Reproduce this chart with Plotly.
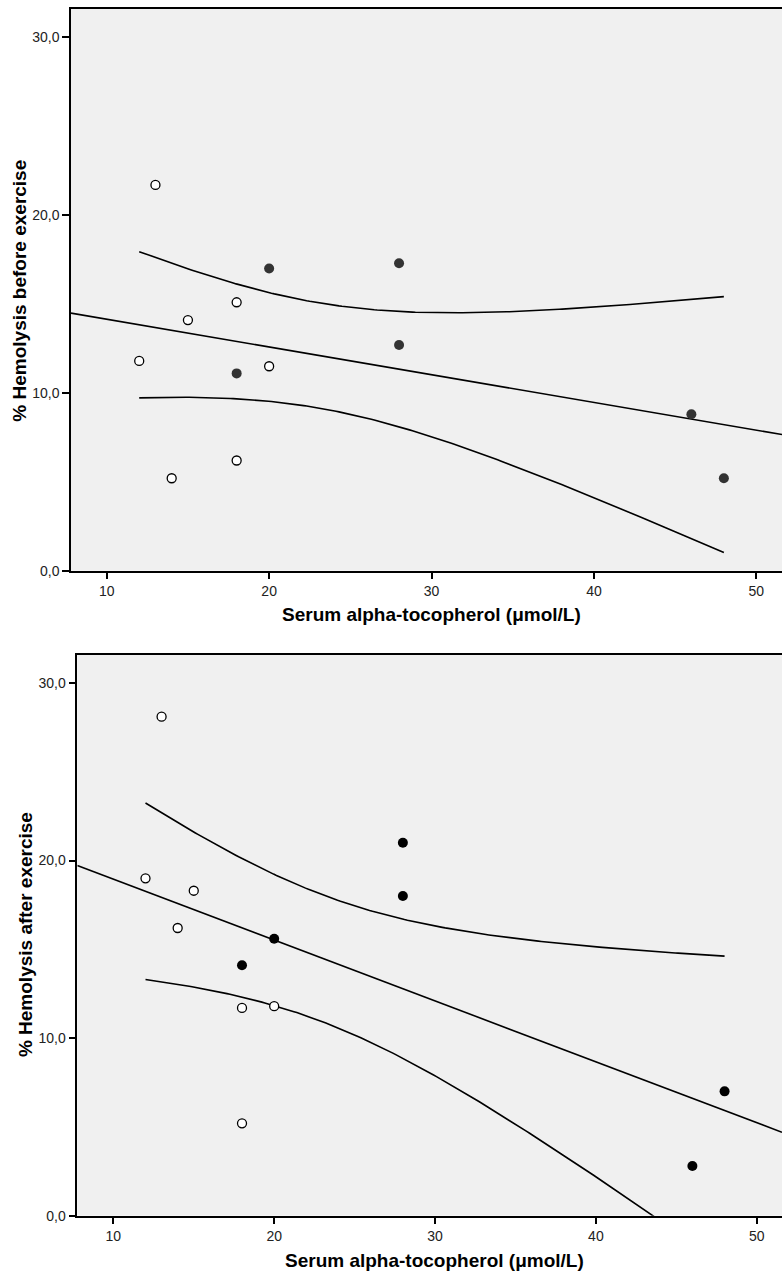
import numpy as np
import plotly.graph_objects as go

# ---------------- data ----------------
# Top panel: % hemolysis before exercise
before_x_open = [13, 12, 15, 18, 20, 14, 18]
before_y_open = [21.7, 11.8, 14.1, 15.1, 11.5, 5.2, 6.2]
before_x_filled = [20, 28, 18, 28, 46, 48]
before_y_filled = [17.0, 17.3, 11.1, 12.7, 8.8, 5.2]

# Bottom panel: % hemolysis after exercise
after_x_open = [13, 12, 15, 14, 18, 20, 18]
after_y_open = [28.1, 19.0, 18.3, 16.2, 11.7, 11.8, 5.2]
after_x_filled = [20, 18, 28, 28, 48, 46]
after_y_filled = [15.6, 14.1, 21.0, 18.0, 7.0, 2.8]

x_ticks = [10, 20, 30, 40, 50]
y_ticks = [0, 10, 20, 30]
x_title = "Serum alpha-tocopherol (μmol/L)"
y_title_top = "% Hemolysis before exercise"
y_title_bottom = "% Hemolysis after exercise"

T_975_DF11 = 2.201  # t quantile for 95% CI of mean, n-2 = 11


def fit_lines(xo, yo, xf, yf, xr):
    x = np.array(xo + xf, dtype=float)
    y = np.array(yo + yf, dtype=float)
    n = len(x)
    b, a = np.polyfit(x, y, 1)
    lx = np.array(xr, dtype=float)
    ly = a + b * lx
    resid = y - (a + b * x)
    s = np.sqrt((resid ** 2).sum() / (n - 2))
    xm = x.mean()
    sxx = ((x - xm) ** 2).sum()
    cx = np.linspace(x.min(), x.max(), 200)
    cy = a + b * cx
    se = s * np.sqrt(1.0 / n + (cx - xm) ** 2 / sxx)
    return lx, ly, cx, cy + T_975_DF11 * se, cy - T_975_DF11 * se


FONT = "Liberation Sans, Arial, sans-serif"
fig = go.Figure()

panels = [
    dict(xo=before_x_open, yo=before_y_open, xf=before_x_filled, yf=before_y_filled,
         fill="#333333", xa="x", ya="y", xr=[7.80, 51.58]),
    dict(xo=after_x_open, yo=after_y_open, xf=after_x_filled, yf=after_y_filled,
         fill="#000000", xa="x2", ya="y2", xr=[7.76, 51.57]),
]

for p in panels:
    lx, ly, cx, up, lo = fit_lines(p["xo"], p["yo"], p["xf"], p["yf"], p["xr"])
    line = dict(color="black", width=1.6)
    fig.add_trace(go.Scatter(x=lx, y=ly, mode="lines", line=line,
                             xaxis=p["xa"], yaxis=p["ya"], showlegend=False))
    fig.add_trace(go.Scatter(x=cx, y=up, mode="lines", line=line,
                             xaxis=p["xa"], yaxis=p["ya"], showlegend=False))
    fig.add_trace(go.Scatter(x=cx, y=lo, mode="lines", line=line,
                             xaxis=p["xa"], yaxis=p["ya"], showlegend=False))
    fig.add_trace(go.Scatter(x=p["xo"], y=p["yo"], mode="markers",
                             marker=dict(size=9, color="white", line=dict(color="black", width=1.3)),
                             xaxis=p["xa"], yaxis=p["ya"], showlegend=False))
    fig.add_trace(go.Scatter(x=p["xf"], y=p["yf"], mode="markers",
                             marker=dict(size=10, color=p["fill"], line=dict(width=0)),
                             xaxis=p["xa"], yaxis=p["ya"], showlegend=False))

W, H = 782, 1279
axis_common = dict(showgrid=False, zeroline=False, showline=True, linecolor="black",
                   linewidth=1.5, ticks="outside", ticklen=7, tickwidth=1.5,
                   tickcolor="black", tickfont=dict(family=FONT, size=14, color="#222222"))

fig.update_layout(
    width=W, height=H,
    margin=dict(l=0, r=0, t=0, b=0),
    paper_bgcolor="white",
    plot_bgcolor="#f0f0f0",
    separators=",.",
    font=dict(family=FONT),
    xaxis=dict(domain=[71 / W, 1.0], range=panels[0]["xr"], tickvals=x_ticks,
               mirror=True, anchor="y", **axis_common),
    yaxis=dict(domain=[1 - 574.3 / H, 1 - 9 / H], range=[0, 31.6], tickvals=y_ticks,
               tickformat=".1f", anchor="x", **axis_common),
    xaxis2=dict(domain=[77.3 / W, 1.0], range=panels[1]["xr"], tickvals=x_ticks,
                mirror=True, anchor="y2", **axis_common),
    yaxis2=dict(domain=[1 - 1223.3 / H, 1 - 658.7 / H], range=[0, 31.6], tickvals=y_ticks,
                tickformat=".1f", anchor="x2", **axis_common),
)

title_font = dict(family=FONT, size=19, color="black")
for txt, x, y, ang in [
    (x_title, 431.7, 618.3, 0),
    (x_title, 434.5, 1268.3, 0),
    (y_title_top, 19.5, 293, -90),
    (y_title_bottom, 25, 941, -90),
]:
    fig.add_annotation(text="<b>" + txt + "</b>", xref="paper", yref="paper",
                       x=x / W, y=1 - y / H, xanchor="center", yanchor="middle",
                       showarrow=False, textangle=ang, font=title_font)

fig.write_html(
    "out.html",
    config={"displayModeBar": False},
    post_script="document.body.style.margin='0';document.body.style.padding='0';"
                "document.body.style.overflow='hidden';",
)
